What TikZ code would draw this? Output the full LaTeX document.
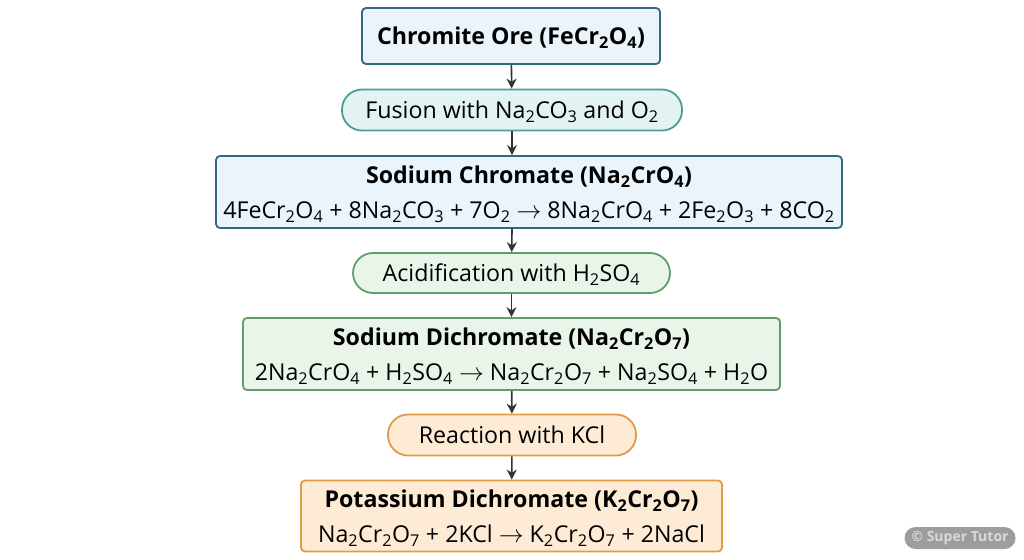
\documentclass[tikz,border=0pt]{standalone}
\usepackage{fontspec}
\setmainfont{Open Sans}
\usepackage{tikz}
\usetikzlibrary{shapes,arrows.meta,positioning}
\usepackage{xcolor}

\definecolor{blueline}{HTML}{2E6B7E}
\definecolor{bluefill}{HTML}{EAF4FA}
\definecolor{tealline}{HTML}{4E9C9A}
\definecolor{tealfill}{HTML}{E3F3F1}
\definecolor{greenline}{HTML}{5E9E68}
\definecolor{greenfill}{HTML}{EAF5EA}
\definecolor{orangeline}{HTML}{E09A48}
\definecolor{orangefill}{HTML}{FDEBD5}
\definecolor{arrowgray}{HTML}{333333}

\newcommand{\lo}[1]{\textsubscript{#1}}

\begin{document}
\begin{tikzpicture}[x=1pt, y=-1pt,
  every node/.style={font=\fontsize{23.2}{35}\selectfont, text=black},
  product/.style={draw, line width=1.8pt, rounded corners=4pt, align=center, inner sep=0pt, text depth=0pt},
  process/.style={draw, line width=1.8pt, rounded corners=20pt, inner sep=0pt, text depth=0pt},
  flow/.style={draw=arrowgray, line width=1.6pt, -{Stealth[length=10pt,width=10pt]}}]

\useasboundingbox (0,0) rectangle (1024,559);

% Products and processes down the middle
\node[product, draw=blueline, fill=bluefill, minimum width=298pt, minimum height=56pt]
  (ore) at (511,36) {\bfseries Chromite Ore (FeCr\lo{2}O\lo{4})};
\node[process, draw=tealline, fill=tealfill, minimum width=340pt, minimum height=41pt]
  (fusion) at (512,110) {Fusion with Na\lo{2}CO\lo{3} and O\lo{2}};
\node[product, draw=blueline, fill=bluefill, minimum width=626pt, minimum height=72pt]
  (chromate) at (529,192) {{\bfseries Sodium Chromate (Na\lo{2}CrO\lo{4})}\\
  4FeCr\lo{2}O\lo{4} + 8Na\lo{2}CO\lo{3} + 7O\lo{2} $\rightarrow$ 8Na\lo{2}CrO\lo{4} + 2Fe\lo{2}O\lo{3} + 8CO\lo{2}};
\node[process, draw=greenline, fill=greenfill, minimum width=317pt, minimum height=40pt]
  (acid) at (511.5,273) {Acidification with H\lo{2}SO\lo{4}};
\node[product, draw=greenline, fill=greenfill, minimum width=537pt, minimum height=72pt]
  (dichromate) at (511.5,354) {{\bfseries Sodium Dichromate (Na\lo{2}Cr\lo{2}O\lo{7})}\\
  2Na\lo{2}CrO\lo{4} + H\lo{2}SO\lo{4} $\rightarrow$ Na\lo{2}Cr\lo{2}O\lo{7} + Na\lo{2}SO\lo{4} + H\lo{2}O};
\node[process, draw=orangeline, fill=orangefill, minimum width=248pt, minimum height=41pt]
  (kcl) at (512,435) {Reaction with KCl};
\node[product, draw=orangeline, fill=orangefill, minimum width=421pt, minimum height=71pt]
  (potassium) at (511.5,516) {{\bfseries Potassium Dichromate (K\lo{2}Cr\lo{2}O\lo{7})}\\
  Na\lo{2}Cr\lo{2}O\lo{7} + 2KCl $\rightarrow$ K\lo{2}Cr\lo{2}O\lo{7} + 2NaCl};

% Arrows
\draw[flow] (ore) -- (fusion);
\draw[flow] (fusion) -- (fusion |- chromate.north);
\draw[flow] (fusion |- chromate.south) -- (acid);
\draw[flow] (acid) -- (dichromate);
\draw[flow] (dichromate) -- (kcl);
\draw[flow] (kcl) -- (potassium);

% Watermark
\node[fill=gray!60!black!55, rounded corners=11pt, minimum width=111pt, minimum height=22pt,
  inner sep=0pt, font=\fontsize{14}{16}\selectfont\bfseries, text=gray!30]
  (mark) at (960,538) {\textcopyright\ Super Tutor};

\end{tikzpicture}
\end{document}
